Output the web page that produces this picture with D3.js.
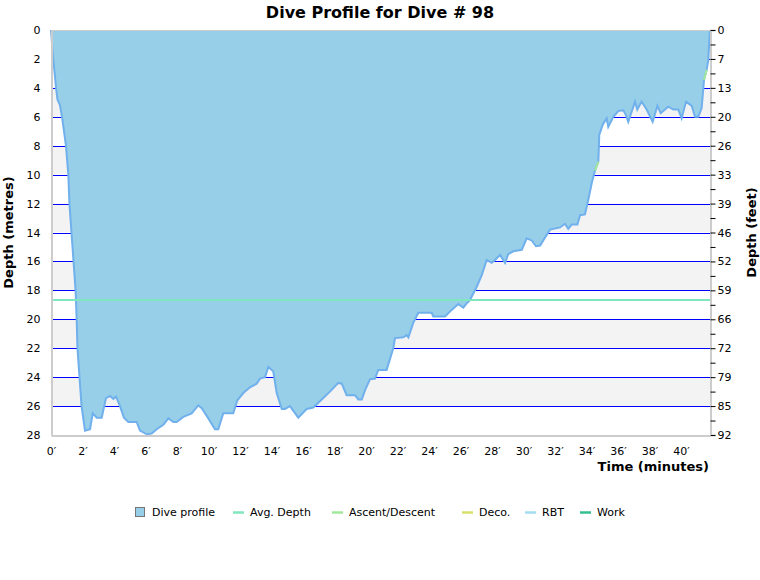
<!DOCTYPE html>
<html>
<head>
<meta charset="utf-8">
<script src="https://cdn.jsdelivr.net/npm/d3@7"></script>
<style>
  html, body { margin: 0; padding: 0; background: #fff; overflow: hidden; }
  svg { display: block; font-family: "DejaVu Sans", Verdana, sans-serif; }
</style>
</head>
<body>
<div id="chart"></div>
<script>
// Dive profile samples: time (minutes) and depth (metres)
const times = [0, 0.1, 0.32, 0.41, 0.57, 0.7, 0.95, 1.1, 1.17, 1.3, 1.43, 1.56, 1.63, 1.68, 1.81, 1.94, 2.16, 2.48,
  2.65, 2.9, 3.22, 3.49, 3.75, 3.96, 4.13, 4.38, 4.63, 4.91, 5.44, 5.65, 6.08, 6.39, 6.71, 7.13, 7.45, 7.77, 7.98,
  8.4, 8.93, 9.35, 9.57, 9.99, 10.41, 10.62, 10.94, 11.57, 11.83, 12.21, 12.63, 13.06, 13.27, 13.59, 13.8, 14.11,
  14.33, 14.65, 14.86, 15.17, 15.7, 16.23, 16.65, 17.19, 17.71, 18.24, 18.46, 18.77, 19.3, 19.51, 19.73, 19.94,
  20.25, 20.57, 20.78, 21.31, 21.73, 21.84, 22.37, 22.58, 22.69, 23.0, 23.32, 24.17, 24.27, 25.02, 25.44, 25.86,
  26.18, 26.39, 26.6, 27.03, 27.35, 27.66, 27.98, 28.19, 28.51, 28.83, 29.03, 29.35, 29.89, 30.2, 30.52, 30.79,
  31.05, 31.68, 32.32, 32.63, 32.84, 33.06, 33.42, 33.59, 33.9, 34.11, 34.33, 34.54, 34.75, 34.81, 35.03, 35.28,
  35.38, 35.7, 36.02, 36.34, 36.51, 36.65, 37.08, 37.22, 37.5, 37.82, 38.2, 38.5, 38.71, 39.19, 39.51, 39.83,
  40.04, 40.32, 40.68, 40.89, 41.1, 41.31, 41.46, 41.63, 41.73, 41.8, 41.84];
const depths = [0, 1.5, 4, 4.8, 5.2, 6, 8, 10, 12, 14, 16, 18, 20, 22, 24, 26, 27.7, 27.6,
  26.5, 26.8, 26.8, 25.45, 25.3, 25.5, 25.35, 26.0, 26.8, 27.1, 27.1, 27.7, 27.95, 27.9, 27.6, 27.3, 26.85, 27.1, 27.1,
  26.75, 26.5, 25.95, 26.15, 26.85, 27.6, 27.6, 26.5, 26.5, 25.6, 25.1, 24.7, 24.45, 24.1, 24.0, 23.3, 23.6,
  25.1, 26.2, 26.2, 26.0, 26.8, 26.2, 26.1, 25.55, 25.0, 24.4, 24.45, 25.25, 25.25, 25.55, 25.55, 24.9,
  24.15, 24.1, 23.5, 23.5, 22.0, 21.3, 21.25, 21.1, 21.25, 20.25, 19.55, 19.55, 19.8, 19.8, 19.35, 18.95,
  19.2, 18.9, 18.67, 17.75, 16.95, 15.9, 16.1, 15.9, 15.55, 16.1, 15.5, 15.3, 15.2, 14.4, 14.55, 14.95,
  14.9, 13.8, 13.65, 13.4, 13.75, 13.45, 13.45, 12.8, 12.75, 11.75, 10.6, 9.7, 9.1, 7.25, 6.55, 6.1,
  6.7, 6.0, 5.6, 5.55, 5.9, 6.35, 4.95, 5.5, 4.95, 5.5, 6.35, 5.25, 5.75, 5.3, 5.5, 5.5,
  6.1, 4.95, 5.25, 6.0, 6.0, 5.4, 3.45, 2.75, 2.1, 0.7, 0];

const avgDepth = 18.67;
const ascentWarnings = [[34.54, 34.75], [41.46, 41.63]];

const timeTicks = d3.range(0, 41, 2);
const depthTicks = d3.range(0, 29, 2);
const footTickDepths = d3.range(0, 29, 1);

const legendNames = ['Dive profile', 'Avg. Depth', 'Ascent/Descent', 'Deco.', 'RBT', 'Work'];
const legendColors = ['#97cfe9', '#80e6bd', '#a2e89c', '#d9e06a', '#a4dcf2', '#33bf8e'];

const width = 760;
const height = 580;
const margin = { top: 30, right: 50, bottom: 145, left: 51 };
const innerWidth = width - margin.left - margin.right;
const innerHeight = height - margin.top - margin.bottom;

const svg = d3.select('#chart')
    .append('svg')
    .attr('width', width)
    .attr('height', height);

// Scales
const xScale = d3.scaleLinear()
    .domain([0, 41.84])
    .range([margin.left, margin.left + innerWidth]);

const yScale = d3.scaleLinear()
    .domain([0, 28])
    .range([margin.top, margin.top + innerHeight]);

const data = times.map((t, i) => ({ t: t, d: depths[i] }));

// Alternating bands
svg.append('g')
    .selectAll('rect')
    .data(depthTicks.slice(0, -1))
    .enter()
    .append('rect')
    .attr('x', margin.left)
    .attr('y', d => yScale(d))
    .attr('width', innerWidth)
    .attr('height', d => yScale(d + 2) - yScale(d))
    .attr('fill', (d, i) => i % 2 === 0 ? '#f3f3f3' : '#ffffff');

// Grid lines
svg.append('g')
    .selectAll('line')
    .data(depthTicks.filter(d => d > 0 && d < 28))
    .enter()
    .append('line')
    .attr('x1', margin.left)
    .attr('x2', margin.left + innerWidth)
    .attr('y1', d => Math.round(yScale(d)) + 0.5)
    .attr('y2', d => Math.round(yScale(d)) + 0.5)
    .attr('stroke', '#0000ff')
    .attr('stroke-width', 1.2);

// Profile area
const area = d3.area()
    .x(d => xScale(d.t))
    .y0(yScale(0))
    .y1(d => yScale(d.d));

svg.append('path')
    .datum(data)
    .attr('d', area)
    .attr('fill', '#97cfe9');

const line = d3.line()
    .x(d => xScale(d.t))
    .y(d => yScale(d.d));

svg.append('path')
    .datum(data)
    .attr('d', line)
    .attr('fill', 'none')
    .attr('stroke', '#70b0ec')
    .attr('stroke-width', 2);

// Ascent rate segments
ascentWarnings.forEach(w => {
    svg.append('path')
        .datum(data.filter(d => d.t >= w[0] && d.t <= w[1]))
        .attr('d', line)
        .attr('fill', 'none')
        .attr('stroke', legendColors[2])
        .attr('stroke-width', 2);
});

// Average depth
svg.append('line')
    .attr('x1', margin.left)
    .attr('x2', margin.left + innerWidth)
    .attr('y1', yScale(avgDepth))
    .attr('y2', yScale(avgDepth))
    .attr('stroke', legendColors[1])
    .attr('stroke-width', 2);

// Plot frame
svg.append('line')
    .attr('x1', margin.left).attr('x2', margin.left + innerWidth)
    .attr('y1', margin.top + 0.5).attr('y2', margin.top + 0.5)
    .attr('stroke', '#cccccc');

// Left axis
const yAxis = d3.axisLeft(yScale).tickValues(depthTicks).tickSize(0).tickPadding(11);
const gy = svg.append('g')
    .attr('transform', `translate(${margin.left + 0.5}, 0)`)
    .call(yAxis);
gy.select('.domain').attr('stroke', '#cccccc').attr('stroke-width', 2);
gy.selectAll('text').attr('font-size', 11).attr('fill', '#000').attr('font-family', 'DejaVu Sans');

// Right axis (feet)
const yAxisRight = d3.axisRight(yScale)
    .tickValues(footTickDepths)
    .tickSize(5)
    .tickPadding(2)
    .tickFormat(d => d % 2 ? '' : Math.round(d * 3.28084));
const gr = svg.append('g')
    .attr('transform', `translate(${margin.left + innerWidth + 0.5}, 0)`)
    .call(yAxisRight);
gr.select('.domain').attr('stroke', '#cccccc').attr('stroke-width', 2);
gr.selectAll('text').attr('font-size', 11).attr('fill', '#000').attr('font-family', 'DejaVu Sans');
gr.selectAll('.tick').filter(d => d % 2).select('text').remove();
gr.selectAll('.tick line').attr('stroke', '#000');

// Bottom axis
const xAxis = d3.axisBottom(xScale).tickValues(timeTicks).tickSize(0).tickPadding(12)
    .tickFormat(d => d + '\u2032');
const gx = svg.append('g')
    .attr('transform', `translate(0, ${margin.top + innerHeight + 0.5})`)
    .call(xAxis);
gx.select('.domain').attr('stroke', '#cccccc').attr('stroke-width', 2);
gx.selectAll('text').attr('font-size', 11).attr('fill', '#000').attr('font-family', 'DejaVu Sans');

// Titles
svg.append('text')
    .attr('x', width / 2)
    .attr('y', 18)
    .attr('text-anchor', 'middle')
    .attr('font-size', 16)
    .attr('font-weight', 'bold')
    .text('Dive Profile for Dive # 98');

svg.append('text')
    .attr('transform', 'rotate(-90)')
    .attr('x', -(margin.top + innerHeight / 2))
    .attr('y', 13)
    .attr('text-anchor', 'middle')
    .attr('font-size', 13)
    .attr('font-weight', 'bold')
    .text('Depth (metres)');

svg.append('text')
    .attr('transform', 'rotate(-90)')
    .attr('x', -(margin.top + innerHeight / 2))
    .attr('y', 756)
    .attr('text-anchor', 'middle')
    .attr('font-size', 13)
    .attr('font-weight', 'bold')
    .text('Depth (feet)');

svg.append('text')
    .attr('x', margin.left + innerWidth - 1)
    .attr('y', 471)
    .attr('text-anchor', 'end')
    .attr('font-size', 13)
    .attr('font-weight', 'bold')
    .text('Time (minutes)');

// Legend
const legendX = [135, 233, 332, 462, 525, 580];
const legend = svg.append('g').attr('transform', 'translate(0, 512)');
legendNames.forEach((name, i) => {
    const g = legend.append('g').attr('transform', `translate(${legendX[i]}, 0)`);
    if (i === 0) {
        g.append('rect')
            .attr('x', 0.5).attr('y', -4.5)
            .attr('width', 9).attr('height', 9)
            .attr('fill', legendColors[i])
            .attr('stroke', '#777777');
    } else {
        g.append('line')
            .attr('x1', 0).attr('x2', 11)
            .attr('y1', 0.5).attr('y2', 0.5)
            .attr('stroke', legendColors[i])
            .attr('stroke-width', 2.5);
    }
    g.append('text')
        .attr('x', 17)
        .attr('y', 4)
        .attr('font-size', 11)
        .text(name);
});
</script>
</body>
</html>
